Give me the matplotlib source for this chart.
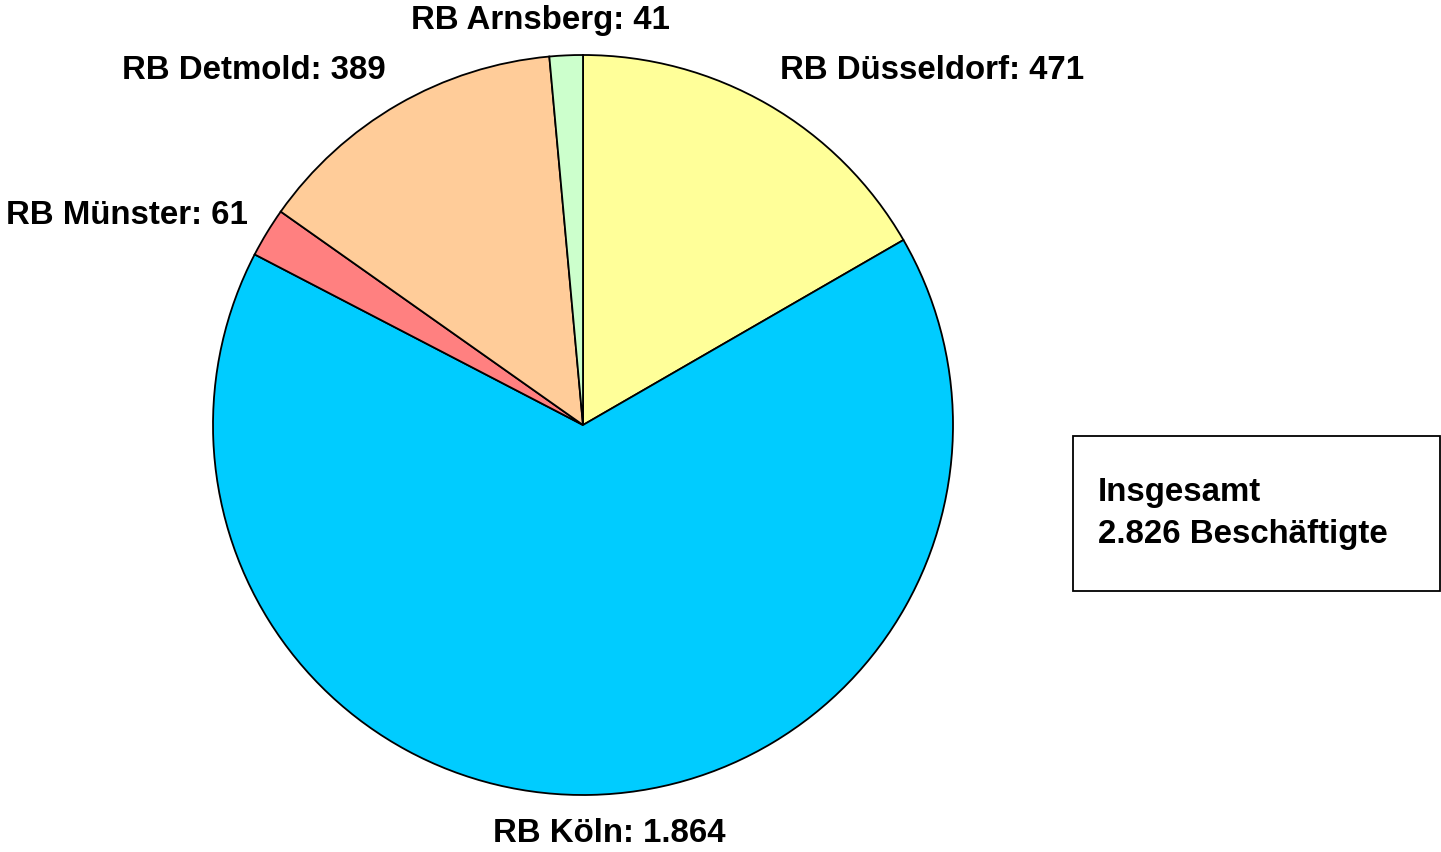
import matplotlib
matplotlib.use("Agg")
import matplotlib.pyplot as plt
from matplotlib.patches import Rectangle

# data
regions = ["RB Düsseldorf", "RB Köln", "RB Münster", "RB Detmold", "RB Arnsberg"]
value_labels = ["471", "1.864", "61", "389", "41"]
values = [471, 1864, 61, 389, 41]
colors = ["#FFFF99", "#00CCFF", "#FF8080", "#FFCC99", "#CCFFCC"]
total_label = "2.826"

W, H = 1441, 853
cx, cy, R = 583, 426, 370   # pie centre / radius in pixels

fig = plt.figure(figsize=(W / 100, H / 100), dpi=100)
ax = fig.add_axes([0, 0, 1, 1])

ax.pie(values, colors=colors, startangle=90, counterclock=False, radius=1,
       wedgeprops=dict(edgecolor="black", linewidth=1.3))

# pie() resets the limits, so fix them afterwards
ax.set_aspect("auto")
ax.set_xlim(-cx / R, (W - cx) / R)
ax.set_ylim(-(H - cy) / R, cy / R)
ax.axis("off")

def px(x, y):
    return (x - cx) / R, (cy - y) / R

font = dict(family="Liberation Sans", weight="bold", fontsize=23.8, color="black")

# label anchors in pixel space (x, y, ha)
anchors = [(780, 70, "left"), (609, 834, "center"), (248, 215, "right"),
           (386, 70, "right"), (540, 20, "center")]
for name, val, (x, y, ha) in zip(regions, value_labels, anchors):
    tx, ty = px(x, y)
    ax.text(tx, ty, f"{name}: {val}", ha=ha, va="center", **font)

# total box
bx0, by0 = px(1073, 592)
bx1, by1 = px(1440, 437)
ax.add_patch(Rectangle((bx0, by0), bx1 - bx0, by1 - by0, fill=False,
                       edgecolor="black", linewidth=1.3, clip_on=False))
tx, ty = px(1098, 492)
ax.text(tx, ty, "Insgesamt", ha="left", va="center", **font)
tx, ty = px(1098, 535)
ax.text(tx, ty, f"{total_label} Beschäftigte", ha="left", va="center", **font)

fig.savefig("out.png", dpi=100, facecolor="white")
